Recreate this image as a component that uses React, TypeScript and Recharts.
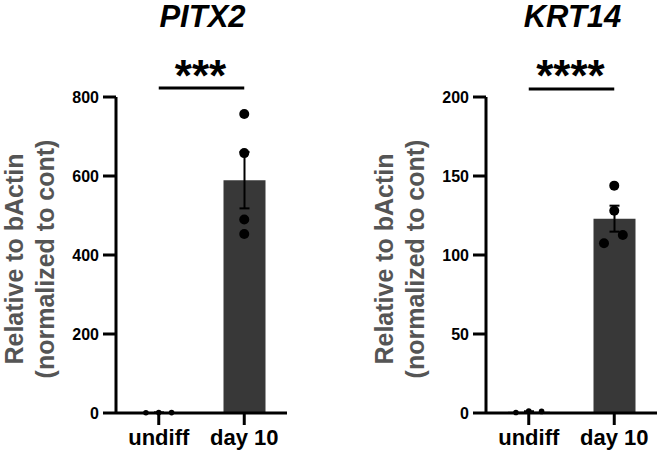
import React from "react";
import {
  Bar,
  ComposedChart,
  ErrorBar,
  ReferenceLine,
  Scatter,
  XAxis,
  YAxis,
} from "recharts";

const categories = ["undiff", "day 10"];

// individual replicate values
const pitx2Undiff = [0.8, 1.2, 1.0];
const pitx2Day10 = [757, 658, 490, 453];
const krt14Undiff = [0.3, 1.2, 1.0];
const krt14Day10 = [143.9, 128, 107.4, 112.7];

// horizontal scatter of the dots within a group (in group units)
const undiffJitter = [-0.15, 0, 0.15];
const pitx2Day10Jitter = [0, 0, 0, 0];
const krt14Day10Jitter = [0, 0, -0.12, 0.1];

const pitx2Ticks = [0, 200, 400, 600, 800];
const krt14Ticks = [0, 50, 100, 150, 200];

const FONT = "'Liberation Sans', Arial, Helvetica, sans-serif";

const mean = (v: number[]) => v.reduce((a, b) => a + b, 0) / v.length;
const sem = (v: number[]) => {
  const m = mean(v);
  const sd = Math.sqrt(v.reduce((a, b) => a + (b - m) ** 2, 0) / (v.length - 1));
  return sd / Math.sqrt(v.length);
};

const dot = (r: number) => (props: any) =>
  <circle cx={props.cx} cy={props.cy} r={r} fill="#000" />;

interface PanelProps {
  left: number;
  title: string;
  stars: string;
  ticks: number[];
  sigY: number;
  undiff: number[];
  day10: number[];
  day10Jitter: number[];
}

function Panel({ left, title, stars, ticks, sigY, undiff, day10, day10Jitter }: PanelProps) {
  const groups = [undiff, day10];
  const barData = categories.map((c, i) => ({
    group: c,
    mean: mean(groups[i]),
    sem: sem(groups[i]),
  }));
  const undiffPts = undiff.map((v, i) => ({ x: 0.5 + undiffJitter[i], v }));
  const day10Pts = day10.map((v, i) => ({ x: 1.5 + day10Jitter[i], v }));

  return (
    <div style={{ position: "absolute", left, top: 0, width: 290, height: 459 }}>
      <ComposedChart
        width={290}
        height={459}
        data={barData}
        margin={{ top: 97, right: 3, bottom: 0, left: 56 }}
        style={{ fontFamily: FONT }}
      >
        <XAxis
          xAxisId="cat"
          dataKey="group"
          type="category"
          height={46}
          interval={0}
          tickSize={12}
          tickMargin={4}
          axisLine={{ stroke: "#000", strokeWidth: 3 }}
          tickLine={{ stroke: "#000", strokeWidth: 3 }}
          tick={{ fill: "#000", fontSize: 22, fontWeight: 700 }}
        />
        <XAxis xAxisId="pos" type="number" dataKey="x" domain={[0, 2]} hide />
        <YAxis
          width={60}
          domain={[0, ticks[ticks.length - 1]]}
          ticks={ticks}
          interval={0}
          tickSize={13}
          tickMargin={4}
          axisLine={{ stroke: "#000", strokeWidth: 3 }}
          tickLine={{ stroke: "#000", strokeWidth: 3 }}
          tick={{ fill: "#000", fontSize: 16, fontWeight: 700 }}
        />
        <Bar
          xAxisId="cat"
          dataKey="mean"
          fill="#383838"
          barSize={42}
          isAnimationActive={false}
        >
          <ErrorBar dataKey="sem" width={5} stroke="#000" strokeWidth={2} />
        </Bar>
        <Scatter
          xAxisId="pos"
          data={undiffPts}
          dataKey="v"
          shape={dot(2.8)}
          isAnimationActive={false}
        />
        <Scatter
          xAxisId="pos"
          data={day10Pts}
          dataKey="v"
          shape={dot(5)}
          isAnimationActive={false}
        />
        <ReferenceLine
          xAxisId="pos"
          segment={[
            { x: 0.5, y: sigY },
            { x: 1.5, y: sigY },
          ]}
          stroke="#000"
          strokeWidth={3}
          ifOverflow="visible"
        />
      </ComposedChart>
      <svg
        width={290}
        height={459}
        style={{ position: "absolute", left: 0, top: 0, pointerEvents: "none" }}
        fontFamily={FONT}
      >
        <text x={202.5} y={27} textAnchor="middle" fontSize={31} fontWeight={700} fontStyle="italic">
          {title}
        </text>
        <text x={200.5} y={91} textAnchor="middle" fontSize={44} fontWeight={700}>
          {stars}
        </text>
        <g fill="#555" fontSize={25} fontWeight={700}>
          <text x={23} y={259} textAnchor="middle" transform="rotate(-90 23 259)">
            Relative to bActin
          </text>
          <text x={53.5} y={259} textAnchor="middle" transform="rotate(-90 53.5 259)">
            (normalized to cont)
          </text>
        </g>
      </svg>
    </div>
  );
}

export default function App() {
  return (
    <div style={{ position: "absolute", left: 0, top: 0, width: 660, height: 459, background: "#fff" }}>
      <Panel
        left={0}
        title="PITX2"
        stars="***"
        ticks={pitx2Ticks}
        sigY={823}
        undiff={pitx2Undiff}
        day10={pitx2Day10}
        day10Jitter={pitx2Day10Jitter}
      />
      <Panel
        left={370}
        title="KRT14"
        stars="****"
        ticks={krt14Ticks}
        sigY={205}
        undiff={krt14Undiff}
        day10={krt14Day10}
        day10Jitter={krt14Day10Jitter}
      />
    </div>
  );
}
